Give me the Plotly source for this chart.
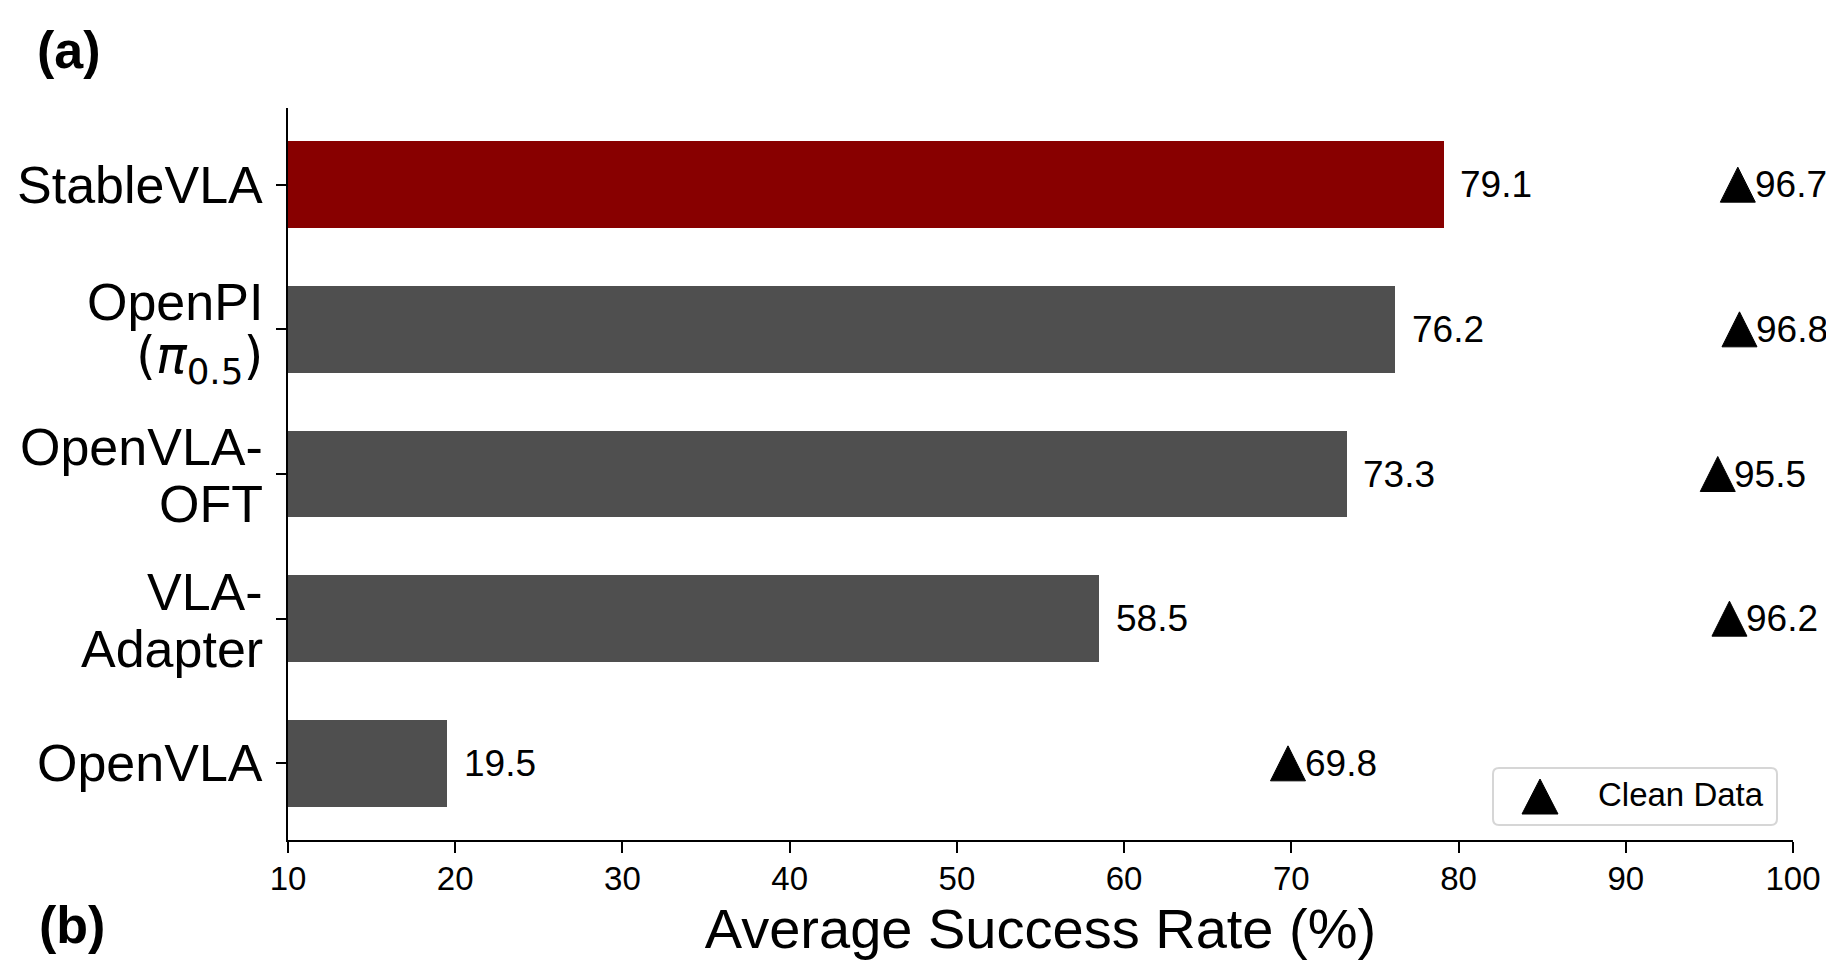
import plotly.graph_objects as go

# ---------------- data ----------------
label_lines = [["StableVLA"], ["OpenPI", "(<i>π</i><sub>0.5</sub>)"], ["OpenVLA-", "OFT"],
               ["VLA-", "Adapter"], ["OpenVLA"]]
noisy_rate = [79.1, 76.2, 73.3, 58.5, 19.5]
clean_rate = [96.7, 96.8, 95.5, 96.2, 69.8]
bar_colors = ["#880000", "#4f4f4f", "#4f4f4f", "#4f4f4f", "#4f4f4f"]
x_ticks = [10, 20, 30, 40, 50, 60, 70, 80, 90, 100]
legend_label = "Clean Data"
x_title = "Average Success Rate (%)"

# ---------------- layout constants ----------------
W, H = 1826, 960
L, R, T, B = 288, 33, 108, 120
PW, PH = W - L - R, H - T - B
FONT = "Liberation Sans, Arial, Helvetica, sans-serif"
Y_RANGE = [4.53, -0.53]
MSIZE = 35

def px_x(px):
    return (px - L) / PW

def px_y(py):
    return (H - B - py) / PH

ypos = list(range(len(noisy_rate)))
# plotly's arrow-up has its apex on the anchor; lift the anchor so the
# triangle is centred on the row (axis is reversed: up = smaller value)
px_per_unit = PH / abs(Y_RANGE[0] - Y_RANGE[1])
nudge = 0.5 * MSIZE / px_per_unit

fig = go.Figure()
fig.add_trace(go.Bar(
    x=noisy_rate, y=ypos, orientation="h", width=0.6,
    marker=dict(color=bar_colors, line=dict(width=0)),
    showlegend=False,
))
fig.add_trace(go.Scatter(
    x=clean_rate, y=[p - nudge for p in ypos], mode="markers",
    marker=dict(symbol="arrow-up", size=MSIZE, color="black",
                line=dict(color="black", width=1)),
    name=legend_label, showlegend=False,
))

annotations = []
# y tick labels (custom line spacing)
for p, lines in zip(ypos, label_lines):
    if len(lines) == 1:
        shifts = [0]
    else:
        shifts = [27, -30]
    for txt, s in zip(lines, shifts):
        fam = "DejaVu Sans" if "π" in txt else FONT
        annotations.append(dict(
            text=txt, xref="paper", x=0, xanchor="right", xshift=-23,
            yref="y", y=p, yanchor="middle", yshift=s, showarrow=False,
            font=dict(family=fam, size=52 if fam == FONT else 51, color="black")))

# value labels
for p, v in zip(ypos, noisy_rate):
    annotations.append(dict(
        text=f"{v:.1f}", x=v + 1, y=p, xref="x", yref="y", xanchor="left",
        yanchor="middle", xshift=-2, showarrow=False,
        font=dict(family=FONT, size=37, color="black")))
for p, v in zip(ypos, clean_rate):
    annotations.append(dict(
        text=f"{v:.1f}", x=v + 1, y=p, xref="x", yref="y", xanchor="left",
        yanchor="middle", xshift=-2, showarrow=False,
        font=dict(family=FONT, size=37, color="black")))

# (b) panel label
annotations.append(dict(
    text="<b>(b)</b>", xref="paper", yref="paper", x=px_x(37), y=px_y(925),
    xanchor="left", yanchor="middle", showarrow=False,
    font=dict(family=FONT, size=52, color="black")))

# manual legend (matplotlib-style rounded frame with large marker)
lx0, lx1 = px_x(1493), px_x(1777)
ly0, ly1 = px_y(825), px_y(768)
rx, ry = 6 / PW, 6 / PH
legend_frame = (
    f"M {lx0+rx},{ly0} L {lx1-rx},{ly0} Q {lx1},{ly0} {lx1},{ly0+ry} "
    f"L {lx1},{ly1-ry} Q {lx1},{ly1} {lx1-rx},{ly1} "
    f"L {lx0+rx},{ly1} Q {lx0},{ly1} {lx0},{ly1-ry} "
    f"L {lx0},{ly0+ry} Q {lx0},{ly0} {lx0+rx},{ly0} Z"
)
cx, cy = px_x(1540), px_y(796.5)
hw, hh = 18 / PW, 17.5 / PH
legend_tri = f"M {cx-hw},{cy-hh} L {cx+hw},{cy-hh} L {cx},{cy+hh} Z"
shapes = [
    dict(type="path", xref="paper", yref="paper", path=legend_frame,
         line=dict(color="#d6d6d6", width=2), fillcolor="rgba(255,255,255,0.8)"),
    dict(type="path", xref="paper", yref="paper", path=legend_tri,
         line=dict(color="black", width=1), fillcolor="black"),
]
annotations.append(dict(
    text=legend_label, xref="paper", yref="paper", x=px_x(1596), y=px_y(794),
    xanchor="left", yanchor="middle", showarrow=False,
    font=dict(family=FONT, size=33, color="black")))

fig.update_layout(
    width=W, height=H,
    margin=dict(l=L, r=R, t=T, b=B, autoexpand=False),
    paper_bgcolor="white", plot_bgcolor="white",
    font=dict(family=FONT, color="black"),
    title=dict(text="<b>(a)</b>", x=37 / W, xanchor="left", xref="container",
               y=1 - 50 / H, yref="container", yanchor="middle",
               font=dict(family=FONT, size=52, color="black")),
    xaxis=dict(range=[10, 100], tickvals=x_ticks, ticktext=[str(t) for t in x_ticks],
               showline=True, linecolor="black", linewidth=2,
               ticks="outside", ticklen=11, tickwidth=2, tickcolor="black",
               ticklabelstandoff=-3,
               tickfont=dict(family=FONT, size=33, color="black"),
               showgrid=False, zeroline=False,
               title=dict(text=x_title, font=dict(family=FONT, size=56, color="black"),
                          standoff=17)),
    yaxis=dict(range=Y_RANGE, tickvals=ypos, showticklabels=False,
               showline=True, linecolor="black", linewidth=2,
               ticks="outside", ticklen=10, tickwidth=2, tickcolor="black",
               showgrid=False, zeroline=False),
    annotations=annotations,
    shapes=shapes,
    bargap=0,
)

fig.write_html("out.html")
